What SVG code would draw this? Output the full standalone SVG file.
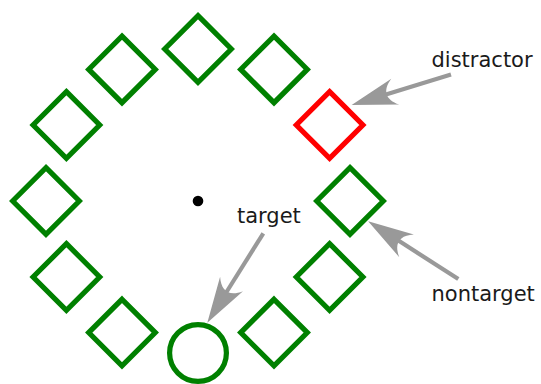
<svg xmlns="http://www.w3.org/2000/svg" width="541" height="384" viewBox="0 0 541 384">
  <style>
    .item { fill: none; stroke: #008000; stroke-width: 5.2; stroke-linejoin: miter; }
    .distr { fill: none; stroke: #ff0000; stroke-width: 5.2; stroke-linejoin: miter; }
    .arrow { stroke: #999999; stroke-width: 4.2; fill: none; }
    .label { font-family: "DejaVu Sans", Verdana, sans-serif; font-size: 21px; fill: #1a1a1a; }
  </style>
  <defs>
    <polygon id="dia" points="0,-33.3 33.3,0 0,33.3 -33.3,0"/>
    <marker id="head" markerUnits="userSpaceOnUse" markerWidth="50" markerHeight="30" viewBox="-10 -12 40 24" refX="0" refY="0" orient="auto" overflow="visible">
      <path d="M28,0 L-8.5,-10.8 C1,-4 1,4 -8.5,10.8 Z" fill="#999999"/>
    </marker>
  </defs>
  <rect width="541" height="384" fill="#ffffff"/>

  <g id="fixation"><circle cx="198" cy="201" r="5.3" fill="#000000"/></g>

  <g id="item-top"><use href="#dia" class="item" transform="translate(198,49)"/></g>
  <g id="item-60"><use href="#dia" class="item" transform="translate(274,69.4)"/></g>
  <g id="distractor"><use href="#dia" class="distr" transform="translate(329.6,125)"/></g>
  <g id="item-right"><use href="#dia" class="item" transform="translate(350,201)"/></g>
  <g id="item-30"><use href="#dia" class="item" transform="translate(329.6,277)"/></g>
  <g id="item-60b"><use href="#dia" class="item" transform="translate(274,332.6)"/></g>
  <g id="target"><circle cx="198" cy="353" r="28.4" class="item"/></g>
  <g id="item-120"><use href="#dia" class="item" transform="translate(122,332.6)"/></g>
  <g id="item-150"><use href="#dia" class="item" transform="translate(66.4,277)"/></g>
  <g id="item-left"><use href="#dia" class="item" transform="translate(46,201)"/></g>
  <g id="item-210"><use href="#dia" class="item" transform="translate(66.4,125)"/></g>
  <g id="item-240"><use href="#dia" class="item" transform="translate(122,69.4)"/></g>

  <g id="connectors">
    <line class="arrow" x1="451" y1="74.5" x2="385.1" y2="94.8" marker-end="url(#head)"/>
    <line class="arrow" x1="458.3" y1="279" x2="397.6" y2="240.1" marker-end="url(#head)"/>
    <line class="arrow" x1="263.3" y1="233.3" x2="225.9" y2="293" marker-end="url(#head)"/>
  </g>

  <g id="labels">
    <text class="label" x="431.5" y="66.7">distractor</text>
    <text class="label" x="237" y="222.7">target</text>
    <text class="label" x="431.5" y="301">nontarget</text>
  </g>
</svg>
